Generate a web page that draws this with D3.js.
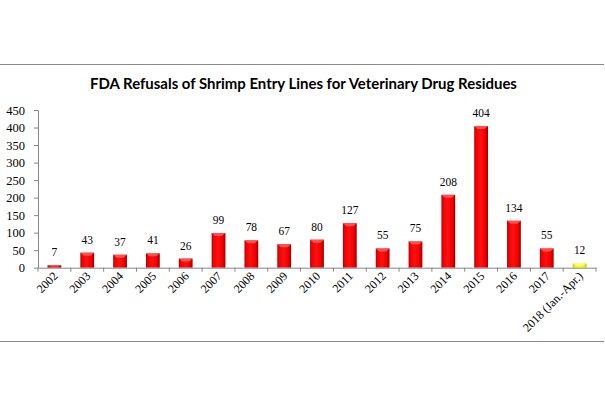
<!DOCTYPE html>
<html><head><meta charset="utf-8">
<script src="https://cdn.jsdelivr.net/npm/d3@7"></script>
<style>body{margin:0;background:#fff}svg{display:block}</style>
</head><body>
<script>
const categories = ["2002","2003","2004","2005","2006","2007","2008","2009","2010","2011","2012","2013","2014","2015","2016","2017","2018 (Jan.-Apr.)"];
const values = [7,43,37,41,26,99,78,67,80,127,55,75,208,404,134,55,12];
const yTicks = [0,50,100,150,200,250,300,350,400,450];
const title = "FDA Refusals of Shrimp Entry Lines for Veterinary Drug Residues";

const W = 605, H = 403;
const svg = d3.select("body").append("svg").attr("width", W).attr("height", H);
const defs = svg.append("defs");
function grad(id, stops){
  const g = defs.append("linearGradient").attr("id", id).attr("x1","0%").attr("x2","100%").attr("y1","0%").attr("y2","0%");
  stops.forEach(s => g.append("stop").attr("offset", s[0]).attr("stop-color", s[1]));
}
grad("red", [["0%","#b00000"],["12%","#f00000"],["45%","#ff1010"],["80%","#f00000"],["100%","#980000"]]);
grad("yel", [["0%","#c8c800"],["15%","#f4f400"],["50%","#ffff30"],["85%","#f0f000"],["100%","#b8b800"]]);

// frame lines
svg.append("line").attr("x1",0).attr("x2",604).attr("y1",64.5).attr("y2",64.5).attr("stroke","#8a8a8a").attr("stroke-width",1.2);
svg.append("line").attr("x1",0).attr("x2",604).attr("y1",341.5).attr("y2",341.5).attr("stroke","#8a8a8a").attr("stroke-width",1.2);

const x = d3.scaleBand().domain(categories).range([38, 596]).paddingInner(0.58).paddingOuter(0.29);
const y = d3.scaleLinear().domain([0,450]).range([267.7, 110]);

const t = svg.append("text").attr("x", 303.5).attr("y", 89).attr("text-anchor","middle")
  .attr("font-family","Lato, 'Open Sans', sans-serif").attr("font-weight","bold").attr("font-size",14.5)
  .attr("fill","#000").text(title);
const tl = t.node().getComputedTextLength();
t.attr("font-size", 14.5 * 427 / tl);

// y axis
const yAxis = svg.append("g").attr("transform","translate(38,0)")
  .call(d3.axisLeft(y).tickValues(yTicks).tickSize(4).tickPadding(9).tickSizeOuter(0));
yAxis.selectAll("path,line").attr("stroke","#868686");
yAxis.selectAll("text").attr("font-family","'Liberation Serif', serif").attr("font-size",12.5).attr("fill","#000");

// bars
svg.selectAll("rect.bar").data(values).join("rect").attr("class","bar")
  .attr("x",(d,i)=>x(categories[i])).attr("width",x.bandwidth())
  .attr("y",d=>y(d)).attr("height",d=>y(0)-y(d))
  .attr("fill",(d,i)=> i===categories.length-1 ? "url(#yel)" : "url(#red)");
// top bevel
svg.selectAll("path.cap").data(values).join("path").attr("class","cap")
  .attr("d",(d,i)=>{const x0=x(categories[i]), w=x.bandwidth(), y0=y(d); const h=Math.min(3,(y(0)-y0)/2);
    return `M${x0},${y0}L${x0+w},${y0}L${x0+w*0.75},${y0+h}L${x0+w*0.25},${y0+h}Z`;})
  .attr("fill",(d,i)=> i===categories.length-1 ? "#ffff80" : "#ff6060").attr("opacity",0.8);

// x axis
const xAxis = svg.append("g").attr("transform",`translate(0,${y(0)})`)
  .call(d3.axisBottom(x).tickSize(0).tickFormat(""));
xAxis.select("path").attr("stroke","#868686");
// tick marks at band boundaries
d3.range(categories.length+1).forEach(i=>{
  const bx = 38 + i*x.step();
  svg.append("line").attr("x1",bx).attr("x2",bx).attr("y1",y(0)).attr("y2",y(0)+4).attr("stroke","#868686");
});

// x labels rotated
svg.selectAll("text.xl").data(categories).join("text").attr("class","xl")
  .attr("transform",c=>`translate(${x(c)+x.bandwidth()/2+4},${y(0)+9}) rotate(-45)`)
  .attr("text-anchor","end").attr("font-family","'Liberation Serif', serif").attr("font-size",12)
  .attr("fill","#000").text(c=>c);

// data labels
svg.selectAll("text.dl").data(values).join("text").attr("class","dl")
  .attr("transform",(d,i)=>`translate(${x(categories[i])+x.bandwidth()/2},${y(d)-9}) scale(0.88,1)`)
  .attr("text-anchor","middle").attr("font-family","'Liberation Serif', serif").attr("font-size",13)
  .attr("fill","#000").text(d=>d);
</script>
</body></html>
